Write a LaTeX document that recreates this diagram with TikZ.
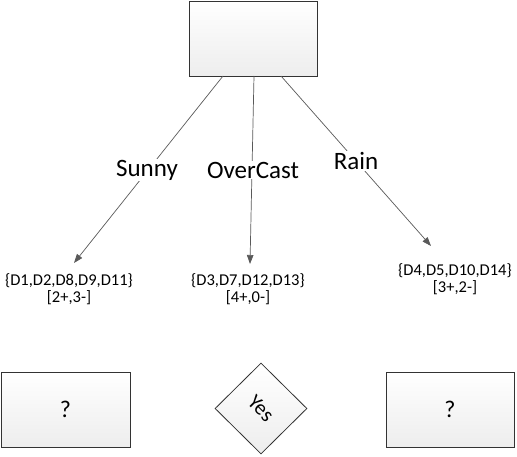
\documentclass[tikz,border=0pt]{standalone}
\usepackage{fontspec}
\setmainfont{Carlito}
\usetikzlibrary{arrows.meta,shapes.geometric}
\begin{document}
\begin{tikzpicture}[x=1pt,y=-1pt,
  box/.style={draw=black!80, line width=0.8pt, top color=white, bottom color=black!7, inner sep=0pt},
  link/.style={draw=black!65, line width=0.7pt, -{Triangle[length=9pt,width=6.5pt]}},
  lbl/.style={fill=white, inner sep=1pt, font=\fontsize{25}{29}\selectfont},
  settext/.style={align=center, inner sep=0pt, font=\fontsize{16.5}{17}\selectfont},
  qtext/.style={font=\fontsize{24}{28}\selectfont}]
\useasboundingbox (0,0) rectangle (517,457);
\node[box, minimum width=128pt, minimum height=75pt] (root) at (253,38.5) {};
\node[box, minimum width=129pt, minimum height=75pt, qtext] (leftq) at (65.5,409.5) {?};
\node[box, minimum width=128pt, minimum height=75pt, qtext] (rightq) at (450,409.5) {?};
\node[box, diamond, minimum width=92pt, minimum height=91pt, font=\fontsize{21}{24}\selectfont] (yes) at (261,408.5) {\rotatebox{-45}{Yes}};
\coordinate (s1) at (223,76);
\coordinate (s2) at (254,76);
\coordinate (s3) at (281,76);
\coordinate (e1) at (74,263);
\coordinate (e2) at (250,264);
\coordinate (e3) at (431,246);
\draw[link] (s1) -- (e1);
\draw[link] (s2) -- (e2);
\draw[link] (s3) -- (e3);
\node[lbl] (sunny) at (147,170) {Sunny};
\node[lbl] (overcast) at (253,170) {OverCast};
\node[lbl] (rain) at (356,161) {Rain};
\node[settext] (set1) at (69,289) {\{D1,D2,D8,D9,D11\}\\{}[2+,3-]};
\node[settext] (set2) at (248,289) {\{D3,D7,D12,D13\}\\{}[4+,0-]};
\node[settext] (set3) at (455,279) {\{D4,D5,D10,D14\}\\{}[3+,2-]};
\end{tikzpicture}
\end{document}
